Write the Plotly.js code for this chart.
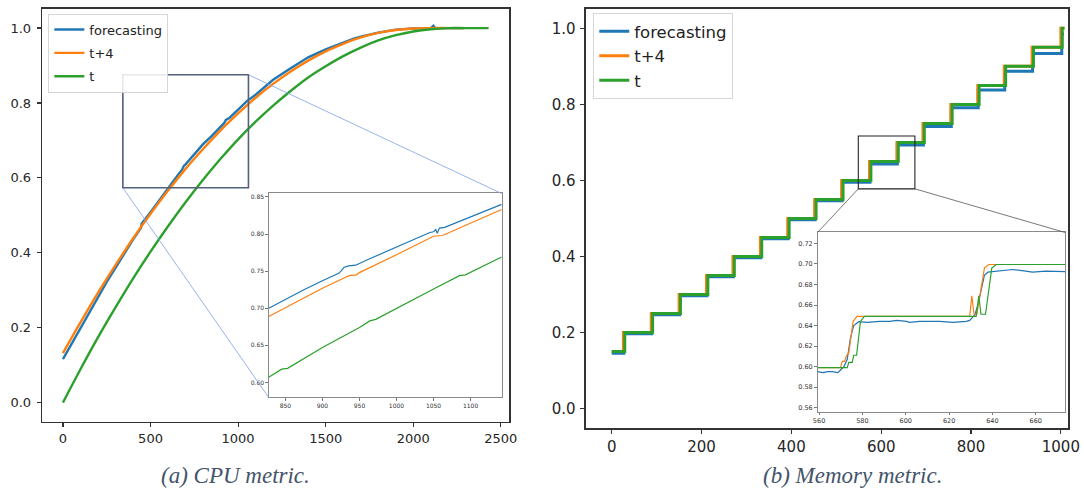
<!DOCTYPE html>
<html>
<head>
<meta charset="utf-8">
<script src="https://cdn.plot.ly/plotly-3.0.1.min.js"></script>
<style>html,body{margin:0;padding:0;background:#fff;}#chart{width:1084px;height:488px;}</style>
</head>
<body>
<div id="chart"></div>
<script>
// ---------- Data: (a) CPU metric, main panel ----------
const seriesNames = ["forecasting", "t+4", "t"];
const cpuForecastX = [0,50,100,150,200,210,250,300,350,400,445,450,500,550,600,650,680,690,700,750,800,850,900,920,930,950,1000,1050,1100,1150,1170,1200,1300,1400,1500,1600,1660,1700,1800,1900,2000,2100,2115,2125,2200,2290];
const cpuForecast  = [0.116,0.158,0.198,0.240,0.280,0.291,0.322,0.360,0.398,0.435,0.466,0.478,0.508,0.541,0.573,0.604,0.622,0.632,0.636,0.664,0.690,0.712,0.736,0.746,0.755,0.760,0.782,0.805,0.822,0.842,0.852,0.862,0.893,0.922,0.943,0.962,0.972,0.977,0.988,0.996,0.999,1.000,1.006,1.000,1.000,1.000];
const cpuT4X = [0,100,200,300,400,500,600,700,800,900,1000,1100,1200,1300,1400,1500,1600,1700,1800,1900,2000,2100,2200,2290];
const cpuT4  = [0.132,0.214,0.293,0.367,0.438,0.504,0.566,0.624,0.677,0.727,0.772,0.814,0.851,0.884,0.913,0.938,0.958,0.975,0.987,0.995,0.999,1.000,1.000,1.000];
const cpuTX = [0,100,200,300,400,500,600,700,800,900,1000,1100,1200,1300,1400,1500,1600,1700,1800,1900,2000,2100,2200,2300,2430];
const cpuT  = [0.000,0.089,0.174,0.254,0.331,0.403,0.471,0.535,0.595,0.651,0.703,0.750,0.793,0.832,0.868,0.898,0.925,0.948,0.967,0.981,0.991,0.997,1.000,1.000,1.000];

// ---------- Data: (a) CPU metric, inset ----------
const cpuInForecastX = [827.5,850,875,900,922,925,929,935,945,960,1000,1045,1050,1053,1055,1058,1065,1100,1142];
const cpuInForecast  = [0.700,0.712,0.725,0.737,0.747,0.750,0.755,0.757,0.758,0.765,0.782,0.802,0.803,0.806,0.801,0.808,0.809,0.823,0.840];
const cpuInT4X = [827.5,850,900,930,936,946,950,1000,1050,1062,1100,1142];
const cpuInT4  = [0.689,0.701,0.727,0.741,0.744,0.745,0.748,0.772,0.797,0.798,0.815,0.833];
const cpuInTX = [827.5,840,845,853,900,950,964,972,1000,1050,1085,1093,1142];
const cpuInT  = [0.607,0.615,0.618,0.619,0.647,0.674,0.683,0.685,0.700,0.726,0.744,0.745,0.769];

// ---------- Data: (b) Memory metric, main panel (step edges / levels) ----------
const memForecastX = [0,27,89,151,212,271,332,393,453,513,575,636,694,756,816,875,937,1002,1007];
const memForecast  = [0.146,0.197,0.247,0.297,0.347,0.397,0.447,0.497,0.547,0.595,0.643,0.693,0.742,0.791,0.838,0.887,0.934,0.985,0.985];
const memT4X = [0,26,88,150,211,270,331,392,452,512,574,635,693,755,815,874,936,1000,1008];
const memT4  = [0.150,0.200,0.250,0.300,0.350,0.400,0.450,0.500,0.550,0.600,0.650,0.700,0.750,0.800,0.850,0.900,0.950,1.000,1.000];
const memTX = [0,29,91,153,214,273,334,395,455,515,577,638,696,758,818,877,939,1003,1008];
const memT  = [0.150,0.200,0.250,0.300,0.350,0.400,0.450,0.500,0.550,0.600,0.650,0.700,0.750,0.800,0.850,0.900,0.950,1.000,1.000];

// ---------- Data: (b) Memory metric, inset ----------
const memInForecastX = [559.3,561.8,564,566,568.7,570,571.5,573,574.5,576,578.3,582.1,588,592.7,595.8,600.3,601.8,606.4,615.6,621.7,627.9,629.5,631.8,633.3,634.8,636.3,637.9,641.7,649.3,655.4,658.5,664.6,673.5];
const memInForecast  = [0.595,0.594,0.595,0.595,0.594,0.597,0.600,0.607,0.628,0.640,0.6437,0.643,0.644,0.644,0.645,0.644,0.643,0.644,0.644,0.643,0.644,0.645,0.650,0.660,0.676,0.689,0.692,0.693,0.6946,0.693,0.692,0.693,0.6926];
const memInT4X = [559.3,569.9,570.7,571.8,572.7,573.7,575.7,577.5,629.5,630.5,631.5,632.8,636.3,638.3,673.5];
const memInT4  = [0.599,0.599,0.605,0.605,0.611,0.613,0.644,0.649,0.649,0.669,0.651,0.651,0.696,0.6995,0.6995];
const memInTX = [559.3,573.0,573.7,575.3,576.0,577.3,579.1,580.9,632.5,633.7,634.7,636.8,639.7,641.7,673.5];
const memInT  = [0.599,0.599,0.604,0.604,0.611,0.611,0.644,0.649,0.649,0.669,0.651,0.651,0.696,0.6995,0.6995];

// ---------- Tick labels / captions ----------
const cpuXTicks = [0,500,1000,1500,2000,2500];
const memXTicks = [0,200,400,600,800,1000];
const mainYTicks = [0,0.2,0.4,0.6,0.8,1.0];
const cpuInXTicks = [850,900,950,1000,1050,1100];
const cpuInYTicks = [0.60,0.65,0.70,0.75,0.80,0.85];
const memInXTicks = [560,580,600,620,640,660];
const memInYTicks = [0.56,0.58,0.60,0.62,0.64,0.66,0.68,0.70,0.72];
const captions = ["(a) CPU metric.", "(b) Memory metric."];

// zoom boxes (data coords of the main panels)
const cpuBox = {x: [342, 1059], y: [0.5736, 0.8753]};
const memBox = {x: [549, 675], y: [0.578, 0.717]};

// ---------- Layout geometry ----------
const colors = ["#1f77b4", "#ff7f0e", "#2ca02c"];
const D = {
  a:  {x: [0.0390, 0.4698], y: [0.1359, 0.9816], xr: [-118, 2548], yr: [-0.051, 1.051]},
  ai: {x: [0.2479, 0.4628], y: [0.1855, 0.6035], xr: [827.5, 1142], yr: [0.5798, 0.8546]},
  b:  {x: [0.5403, 0.9857], y: [0.1236, 0.9809], xr: [-58, 1017], yr: [-0.05, 1.05]},
  bi: {x: [0.7542, 0.9825], y: [0.1564, 0.5236], xr: [559.3, 673.5], yr: [0.556, 0.7307]}
};
function toPaper(v, r, d) { return d[0] + (v - r[0]) / (r[1] - r[0]) * (d[1] - d[0]); }

const traces = [];
function addSet(xs, ys, xa, ya, width, shape, legend, show) {
  for (let i = 0; i < 3; i++) {
    traces.push({
      type: "scatter", mode: "lines", x: xs[i], y: ys[i], xaxis: xa, yaxis: ya,
      name: seriesNames[i], legend: legend, legendgroup: legend + i, showlegend: show,
      line: {color: colors[i], width: width, shape: shape[i]}, hoverinfo: "skip"
    });
  }
}
addSet([cpuForecastX, cpuT4X, cpuTX], [cpuForecast, cpuT4, cpuT], "x", "y", 2.4, ["linear", "spline", "spline"], "legend", true);
addSet([cpuInForecastX, cpuInT4X, cpuInTX], [cpuInForecast, cpuInT4, cpuInT], "x2", "y2", 1.2, ["linear", "linear", "linear"], "legend", false);
addSet([memForecastX, memT4X, memTX], [memForecast, memT4, memT], "x3", "y3", 3, ["hv", "hv", "hv"], "legend2", true);
addSet([memInForecastX, memInT4X, memInTX], [memInForecast, memInT4, memInT], "x4", "y4", 1.2, ["linear", "linear", "linear"], "legend2", false);

function mainAxis(dom, range, ticks, anchor, size, fmt, lw, standoff) {
  return {domain: dom, range: range, anchor: anchor, tickvals: ticks, tickformat: fmt,
    showgrid: false, zeroline: false, showline: true, mirror: true, linecolor: "#333", linewidth: lw,
    ticks: "outside", ticklen: 4, tickwidth: 1.2, tickcolor: "#333", ticklabelstandoff: standoff,
    tickfont: {family: "DejaVu Sans", size: size, color: "#262626"}};
}
function insetAxis(dom, range, ticks, anchor, size, fmt) {
  return {domain: dom, range: range, anchor: anchor, tickvals: ticks, tickformat: fmt,
    showgrid: false, zeroline: false, showline: true, mirror: true, linecolor: "#8a8a8a", linewidth: 1,
    ticks: "outside", ticklen: 2.5, tickwidth: 0.8, tickcolor: "#555",
    tickfont: {family: "DejaVu Sans", size: size, color: "#333"}};
}

const shapes = [
  // white backgrounds for the insets (drawn in the inset subplot layers, above the main curves)
  {type: "rect", xref: "x2", yref: "y2", x0: D.ai.xr[0], x1: D.ai.xr[1], y0: D.ai.yr[0], y1: D.ai.yr[1], layer: "below", fillcolor: "#fff", line: {width: 0}},
  {type: "rect", xref: "x4", yref: "y4", x0: D.bi.xr[0], x1: D.bi.xr[1], y0: D.bi.yr[0], y1: D.bi.yr[1], layer: "below", fillcolor: "#fff", line: {width: 0}},
  // zoom boxes
  {type: "rect", xref: "x", yref: "y", x0: cpuBox.x[0], x1: cpuBox.x[1], y0: cpuBox.y[0], y1: cpuBox.y[1], layer: "above", line: {color: "#52607a", width: 1.6}},
  {type: "rect", xref: "x3", yref: "y3", x0: memBox.x[0], x1: memBox.x[1], y0: memBox.y[0], y1: memBox.y[1], layer: "above", line: {color: "#222", width: 1.1}},
  // connectors (a)
  {type: "line", xref: "paper", yref: "paper", layer: "above",
   x0: toPaper(cpuBox.x[1], D.a.xr, D.a.x), y0: toPaper(cpuBox.y[1], D.a.yr, D.a.y), x1: D.ai.x[1], y1: D.ai.y[1],
   line: {color: "#7d9fe3", width: 0.8}},
  {type: "line", xref: "paper", yref: "paper", layer: "above",
   x0: toPaper(cpuBox.x[0], D.a.xr, D.a.x), y0: toPaper(cpuBox.y[0], D.a.yr, D.a.y), x1: D.ai.x[0], y1: D.ai.y[0],
   line: {color: "#7d9fe3", width: 0.8}},
  // connectors (b)
  {type: "line", xref: "paper", yref: "paper", layer: "above",
   x0: toPaper(memBox.x[0], D.b.xr, D.b.x), y0: toPaper(memBox.y[0], D.b.yr, D.b.y), x1: D.bi.x[0], y1: D.bi.y[1],
   line: {color: "#555", width: 0.8}},
  {type: "line", xref: "paper", yref: "paper", layer: "above",
   x0: toPaper(memBox.x[1], D.b.xr, D.b.x), y0: toPaper(memBox.y[0], D.b.yr, D.b.y), x1: D.bi.x[1], y1: D.bi.y[1],
   line: {color: "#555", width: 0.8}}
];

const layout = {
  width: 1084, height: 488, margin: {l: 0, r: 0, t: 0, b: 0},
  paper_bgcolor: "#fff", plot_bgcolor: "#fff",
  font: {family: "DejaVu Sans", color: "#262626"},
  xaxis:  mainAxis(D.a.x, D.a.xr, cpuXTicks, "y", 13, "d", 1.6, 0),
  yaxis:  mainAxis(D.a.y, D.a.yr, mainYTicks, "x", 13, ".1f", 1.6, 3),
  xaxis2: insetAxis(D.ai.x, D.ai.xr, cpuInXTicks, "y2", 6, "d"),
  yaxis2: insetAxis(D.ai.y, D.ai.yr, cpuInYTicks, "x2", 6, ".2f"),
  xaxis3: mainAxis(D.b.x, D.b.xr, memXTicks, "y3", 15, "d", 2, 0),
  yaxis3: mainAxis(D.b.y, D.b.yr, mainYTicks, "x3", 15, ".1f", 2, 1),
  xaxis4: insetAxis(D.bi.x, D.bi.xr, memInXTicks, "y4", 6.5, "d"),
  yaxis4: insetAxis(D.bi.y, D.bi.yr, memInYTicks, "x4", 6.5, ".2f"),
  legend: {x: 0.0446, y: 0.9723, xanchor: "left", yanchor: "top", traceorder: "grouped", tracegroupgap: 3.5,
    bgcolor: "rgba(255,255,255,0.85)", bordercolor: "#d6d6d6", borderwidth: 1,
    font: {family: "DejaVu Sans", size: 13, color: "#222"}},
  legend2: {x: 0.5473, y: 0.9733, xanchor: "left", yanchor: "top", traceorder: "grouped", tracegroupgap: 0,
    bgcolor: "rgba(255,255,255,0.85)", bordercolor: "#d6d6d6", borderwidth: 1,
    font: {family: "DejaVu Sans", size: 16.5, color: "#222"}},
  shapes: shapes,
  annotations: [
    {text: "<i>" + captions[0] + "</i>", xref: "paper", yref: "paper", x: 0.2177, y: 0.0266, xanchor: "center", yanchor: "middle", showarrow: false,
     font: {family: "Liberation Serif", size: 23, color: "#44546a"}},
    {text: "<i>" + captions[1] + "</i>", xref: "paper", yref: "paper", x: 0.7864, y: 0.0266, xanchor: "center", yanchor: "middle", showarrow: false,
     font: {family: "Liberation Serif", size: 23, color: "#44546a"}}
  ]
};

Plotly.newPlot("chart", traces, layout, {staticPlot: true, displayModeBar: false});
</script>
</body>
</html>
